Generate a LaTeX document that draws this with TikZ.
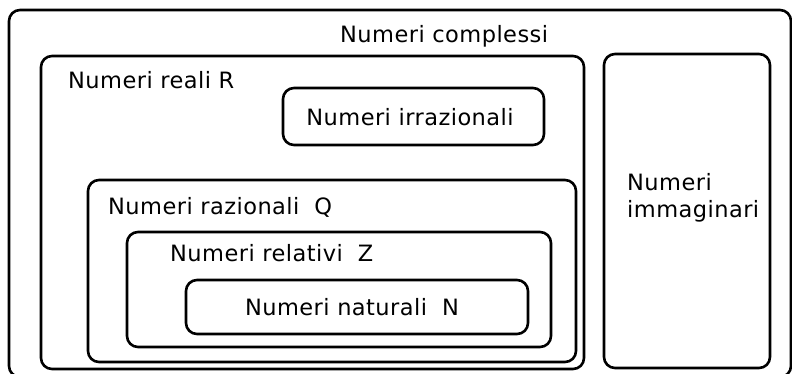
\documentclass[tikz,border=0pt]{standalone}
\usepackage{fontspec}
\setmainfont{DejaVu Sans}[LetterSpace=2]
% wider gap before the single-letter set symbol
\newcommand{\gapsp}{\hspace{15pt}}
\begin{document}
\begin{tikzpicture}[x=1pt,y=-1pt,
  setbox/.style={draw=black, line width=2.6pt, rounded corners=11pt, fill=none, inner sep=0pt},
  setlabel/.style={inner sep=0pt, font=\fontsize{22.5}{27}\selectfont},
]
\useasboundingbox (0,0) rectangle (792,373);
\begin{scope}
\clip (0,0) rectangle (792,373);
% nested sets, drawn as rounded frames given by centre and size
\node[setbox, minimum width=782pt, minimum height=367pt] (complessi) at (400,193.5) {};
\node[setbox, minimum width=543pt, minimum height=313pt] (reali) at (312.5,212.5) {};
\node[setbox, minimum width=261pt, minimum height=57pt] (irrazionali) at (413.5,116.5) {};
\node[setbox, minimum width=488pt, minimum height=182pt] (razionali) at (332,271) {};
\node[setbox, minimum width=424pt, minimum height=115pt] (relativi) at (339,289.5) {};
\node[setbox, minimum width=342pt, minimum height=54pt] (naturali) at (357,307) {};
\node[setbox, minimum width=166pt, minimum height=314pt] (immaginari) at (687,211) {};
\end{scope}
% set names
\node[setlabel, anchor=west] (tcomplessi) at (340,36) {Numeri complessi};
\node[setlabel, anchor=west] (treali) at (68,80) {Numeri reali R};
\node[setlabel] (tirrazionali) at (410,117) {Numeri irrazionali};
\node[setlabel, anchor=west] (trazionali) at (108,207) {Numeri razionali\gapsp Q};
\node[setlabel, anchor=west] (trelativi) at (170,253) {Numeri relativi\gapsp Z};
\node[setlabel] (tnaturali) at (352,307) {Numeri naturali\gapsp N};
\node[setlabel, anchor=west, align=left] (timmaginari) at (627,198) {Numeri\\immaginari};
\end{tikzpicture}
\end{document}
